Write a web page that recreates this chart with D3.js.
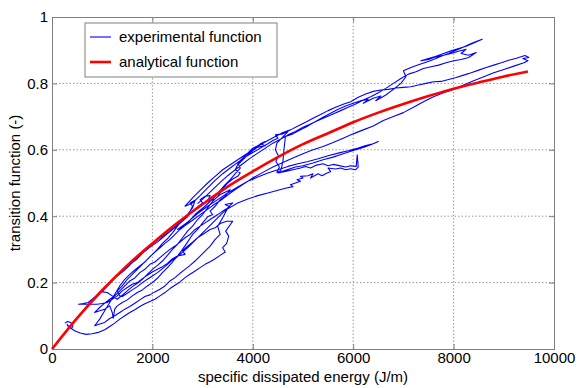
<!DOCTYPE html>
<html>
<head>
<meta charset="utf-8">
<script src="https://cdn.jsdelivr.net/npm/d3@7"></script>
<style>
  body { margin: 0; background: #fff; }
  svg text { font-family: "Liberation Sans", Arial, sans-serif; fill: #000; }
  .grid line { stroke: #999; stroke-dasharray: 1.5,2; }
  .axis path, .axis line { stroke: #808080; }
</style>
</head>
<body>
<svg id="chart" width="579" height="388"></svg>
<script>
// tick values
const xTicks = [0, 2000, 4000, 6000, 8000, 10000];
const yTicks = [0, 0.2, 0.4, 0.6, 0.8, 1];

// analytical function
const anaE = [0, 500, 1000, 1500, 2000, 2500, 3000, 3500, 4000, 4500, 5000, 5500, 6000, 6500, 7000, 7500, 8000, 8500, 9000, 9480];
const anaF = [0, 0.093, 0.177, 0.252, 0.318, 0.38, 0.436, 0.489, 0.535, 0.578, 0.617, 0.65, 0.683, 0.712, 0.738, 0.762, 0.784, 0.803, 0.821, 0.836];

// experimental function, [energy, transition] in drawing order (one load history)
const expPts = [
  [255,0.078],[310,0.083],[370,0.08],[420,0.07],[390,0.062],[330,0.066],[300,0.074],[360,0.064],[450,0.055],[560,0.048],
  [680,0.044],[800,0.046],[920,0.05],[1050,0.058],[1150,0.068],[1250,0.078],[1350,0.09],[1450,0.1],[1550,0.11],[1650,0.118],
  [1750,0.128],[1850,0.136],[1950,0.143],[2050,0.15],[2150,0.16],[2250,0.17],[2350,0.182],[2450,0.192],[2550,0.202],[2650,0.215],
  [2750,0.225],[2850,0.235],[2950,0.245],[3050,0.255],[3150,0.263],[3250,0.272],[3350,0.282],[3450,0.292],[3400,0.305],[3480,0.318],
  [3520,0.34],[3460,0.355],[3540,0.372],[3600,0.385],
  [3480,0.385],[3350,0.378],[3250,0.365],[3150,0.36],[3000,0.345],[2900,0.335],[2800,0.322],[2700,0.31],[2600,0.296],[2650,0.285],
  [2500,0.28],[2400,0.272],[2300,0.258],[2200,0.248],[2100,0.24],[2000,0.232],[1900,0.222],[1800,0.212],[1700,0.2],[1600,0.195],
  [1500,0.185],[1400,0.175],[1300,0.16],[1200,0.15],[1100,0.14],[1000,0.137],[900,0.135],[800,0.135],[700,0.135],[600,0.135],
  [530,0.135],[620,0.137],
  [720,0.14],[820,0.152],[920,0.165],[1020,0.18],[1120,0.195],[1220,0.21],[1320,0.225],[1420,0.238],[1520,0.252],[1620,0.265],
  [1720,0.278],[1820,0.292],[1920,0.305],[2020,0.318],[2120,0.33],[2220,0.342],[2320,0.352],[2420,0.365],[2520,0.378],[2620,0.392],
  [2720,0.405],[2820,0.418],[2920,0.43],[3000,0.44],[2950,0.45],[3050,0.46],[3150,0.462],[3100,0.445],[3250,0.452],[3350,0.465],
  [3450,0.472],[3550,0.48],
  [3450,0.46],[3350,0.45],[3250,0.43],[3150,0.415],[3200,0.405],[3100,0.398],[3000,0.38],[2900,0.36],[2800,0.345],[2700,0.322],
  [2600,0.3],[2500,0.28],[2400,0.262],[2300,0.245],[2200,0.23],[2100,0.213],[2000,0.2],[1900,0.19],[1800,0.178],[1700,0.17],
  [1600,0.16],[1500,0.148],[1400,0.14],[1300,0.13],[1250,0.12],[1220,0.093],[1200,0.11],[1150,0.13],[1050,0.12],[950,0.115],
  [850,0.11],
  [950,0.125],[1050,0.138],[1150,0.15],[1250,0.16],[1350,0.175],[1450,0.19],[1550,0.205],[1650,0.214],[1750,0.23],[1850,0.24],
  [1950,0.255],[2050,0.262],[2150,0.275],[2250,0.288],[2350,0.3],[2450,0.31],[2550,0.322],[2650,0.335],[2750,0.345],[2850,0.36],
  [2950,0.37],[3050,0.38],[3150,0.39],[3250,0.4],[3350,0.41],[3450,0.42],[3550,0.428],[3450,0.435],[3600,0.44],
  [3500,0.425],[3400,0.395],[3300,0.37],[3350,0.345],[3250,0.33],[3150,0.31],[3050,0.295],[2950,0.28],[2850,0.265],[2750,0.252],
  [2650,0.24],[2550,0.228],[2450,0.215],[2350,0.205],[2250,0.19],[2150,0.18],[2050,0.172],[1950,0.163],[1850,0.158],[1750,0.148],
  [1650,0.138],[1550,0.128],[1450,0.12],[1350,0.11],[1250,0.1],[1150,0.092],[1050,0.08],[950,0.075],[850,0.07],
  [950,0.09],[1050,0.115],[1150,0.14],[1250,0.165],[1350,0.19],[1450,0.21],[1550,0.225],[1650,0.238],[1750,0.25],[1850,0.262],
  [1950,0.278],[2050,0.292],[2150,0.305],[2250,0.318],[2350,0.33],[2450,0.345],[2550,0.36],[2650,0.372],[2750,0.388],[2850,0.405],
  [2950,0.418],[3050,0.43],[3150,0.445],[3250,0.46],[3350,0.478],[3450,0.495],[3550,0.51],[3650,0.528],[3750,0.545],[3700,0.56],
  [3800,0.575],[3900,0.59],[4000,0.605],[4100,0.612],[4200,0.622],[4250,0.625],[4150,0.618],[4250,0.612],[4100,0.608],[4000,0.598],
  [3900,0.585],[3800,0.57],[3700,0.555],[3650,0.54],[3750,0.53],[3700,0.52],[3600,0.512],
  [3500,0.5],[3400,0.482],[3300,0.46],[3200,0.445],[3100,0.425],[3000,0.405],[2900,0.39],[2800,0.37],[2700,0.355],[2600,0.335],
  [2500,0.315],[2400,0.3],[2300,0.282],[2200,0.265],[2100,0.252],[2000,0.24],[1900,0.225],[1800,0.21],[1700,0.198],[1600,0.188],
  [1500,0.175],[1400,0.162],[1300,0.15],
  [1200,0.16],[1100,0.17],[1000,0.172],[1100,0.19],[1200,0.205],[1300,0.22],[1400,0.232],[1500,0.245],[1600,0.26],[1700,0.272],
  [1800,0.288],[1900,0.3],[2000,0.312],[2100,0.322],[2200,0.335],[2300,0.348],[2400,0.36],[2500,0.372],[2600,0.385],[2700,0.398],
  [2750,0.415],[2800,0.43],[2750,0.44],[2850,0.448],[2800,0.425],[2700,0.405],[2600,0.39],[2500,0.37],[2400,0.35],[2300,0.332],
  [2200,0.318],[2100,0.3],[2000,0.285],[1900,0.27],[1800,0.255],[1700,0.24],[1600,0.225],[1500,0.21],[1400,0.19],[1300,0.175],
  [1350,0.16],
  [1400,0.158],[1500,0.168],[1600,0.178],[1700,0.188],[1800,0.2],[1900,0.21],[2000,0.22],[2100,0.23],[2200,0.242],[2300,0.255],
  [2400,0.268],[2500,0.278],[2600,0.292],[2700,0.305],[2800,0.32],[2900,0.335],[3000,0.35],[3100,0.365],[3200,0.38],[3300,0.395],
  [3400,0.41],[3500,0.422],[3700,0.44],[3900,0.452],[4100,0.462],[4300,0.47],[4500,0.478],[4650,0.484],[4800,0.489],[4750,0.495],
  [4850,0.5],[4950,0.505],[4880,0.51],[5000,0.515],[4950,0.52],[5100,0.522],[5200,0.528],[5150,0.515],[5300,0.528],[5380,0.522],
  [5450,0.528],[5550,0.535],[5500,0.545],[5650,0.542],[5750,0.545],[5850,0.54],[5950,0.543],[6050,0.54],[6100,0.548],[6080,0.585],
  [6060,0.55],[5950,0.552],[5850,0.548],[5700,0.553],[5600,0.556],[5500,0.552],[5400,0.558],[5250,0.553],[5150,0.545],[5050,0.55],
  [4950,0.545],[4800,0.54],[4650,0.535],[4500,0.53],
  [4650,0.538],[4850,0.548],[5000,0.552],[5200,0.56],[5400,0.57],[5600,0.578],[5800,0.588],[6000,0.598],[6200,0.607],[6350,0.615],
  [6500,0.625],[6400,0.618],[6250,0.613],[6100,0.605],[5900,0.597],[5700,0.59],[5500,0.582],[5300,0.573],[5100,0.565],[4900,0.558],
  [4700,0.55],[4500,0.54],[4300,0.53],[4100,0.518],[3900,0.505],[3700,0.488],[3500,0.47],[3300,0.45],[3100,0.43],[2900,0.408],
  [2700,0.382],[2500,0.36],
  [2650,0.372],[2800,0.388],[3000,0.41],[3200,0.432],[3400,0.452],[3600,0.475],[3800,0.495],[4000,0.515],[4200,0.532],[4400,0.548],
  [4600,0.562],[4800,0.575],[5000,0.588],[5200,0.6],[5400,0.61],[5600,0.622],[5800,0.635],[6000,0.648],[6200,0.66],[6400,0.672],
  [6600,0.688],[6800,0.7],[7000,0.712],[7200,0.728],[7400,0.745],[7600,0.76],[7800,0.772],[8000,0.782],[8200,0.795],[8400,0.808],
  [8600,0.82],[8800,0.832],[9000,0.842],[9200,0.852],[9400,0.862],[9480,0.868],[9380,0.875],[9500,0.878],[9420,0.884],
  [9250,0.876],[9100,0.87],[8950,0.862],[8800,0.855],[8650,0.848],[8500,0.84],[8350,0.832],[8200,0.825],[8050,0.818],[7900,0.812],
  [7750,0.806],[7600,0.805],[7450,0.8],[7300,0.795],[7150,0.79],[7000,0.788],[6850,0.786],[6700,0.782],[6550,0.78],[6400,0.776],
  [6250,0.768],[6100,0.758],[5950,0.745],[5800,0.737],[5650,0.728],[5500,0.718],[5350,0.706],[5200,0.695],[5050,0.683],[4900,0.672],
  [4750,0.66],[4600,0.652],[4450,0.64],[4300,0.628],[4150,0.615],[4000,0.6],[3850,0.585],[3700,0.57],[3550,0.555],[3400,0.54],
  [3250,0.52],[3100,0.5],[2950,0.478],[2800,0.455],[2650,0.43],
  [2800,0.44],[2950,0.462],[3100,0.485],[3250,0.508],[3400,0.528],[3550,0.545],[3700,0.562],[3850,0.578],[4000,0.592],[4150,0.605],
  [4300,0.618],[4400,0.628],[4500,0.635],[4450,0.645],[4600,0.648],[4700,0.655],[4480,0.62],[4450,0.6],[4510,0.582],[4460,0.565],
  [4530,0.548],[4480,0.532],[4560,0.538],[4600,0.565],[4620,0.6],[4650,0.64],[4800,0.648],[4950,0.66],[5100,0.672],
  [5250,0.685],[5400,0.698],[5550,0.71],[5700,0.722],[5850,0.732],[6000,0.74],[6150,0.748],[6300,0.752],[6200,0.74],[6400,0.755],
  [6550,0.762],[6450,0.748],[6650,0.765],[6800,0.782],[6950,0.8],[7050,0.82],[7000,0.838],[7150,0.848],[7300,0.856],[7450,0.864],
  [7600,0.872],[7750,0.882],[7900,0.89],[8050,0.9],[8200,0.91],[8350,0.92],[8450,0.926],[8570,0.933],[8400,0.922],[8250,0.912],
  [8100,0.905],[7950,0.898],[7800,0.89],[7650,0.882],[7500,0.875],[7350,0.868],[7500,0.872],[7650,0.88],[7800,0.885],[7950,0.89],
  [8100,0.897],[8250,0.903],[8150,0.89],[8300,0.885],[8450,0.893],[8300,0.878],[8150,0.872],[8000,0.868],[7850,0.862],[7700,0.855],
  [7550,0.85],[7400,0.845],
  [7250,0.835],[7100,0.828],[6950,0.815],[6800,0.8],[6650,0.785],[6500,0.772],[6350,0.76],[6200,0.75],[6050,0.738],[5900,0.728],
  [5750,0.718],[5600,0.708],[5450,0.698],[5300,0.688],[5150,0.678],[5000,0.668],[4850,0.655],[4700,0.645],[4550,0.632],[4400,0.62],
  [4250,0.605],[4100,0.59],[3950,0.575],[3800,0.558],[3650,0.54],[3500,0.522],[3350,0.502],[3200,0.48],[3050,0.458],[2900,0.438]
];

const legendItems = ['experimental function', 'analytical function'];
const xLabel = 'specific dissipated energy (J/m)';
const yLabel = 'transition function (-)';

const margin = {left: 52, right: 25, top: 17, bottom: 39};
const width = 579, height = 388;
const svg = d3.select('#chart');
const x = d3.scaleLinear().domain([0, 10000]).range([margin.left, width - margin.right]);
const y = d3.scaleLinear().domain([0, 1]).range([height - margin.bottom, margin.top]);

// grid
svg.append('g').attr('class', 'grid').selectAll('line').data(xTicks.slice(1, -1)).enter().append('line')
  .attr('x1', d => x(d)).attr('x2', d => x(d)).attr('y1', y(0)).attr('y2', y(1));
svg.append('g').attr('class', 'grid').selectAll('line').data(yTicks.slice(1, -1)).enter().append('line')
  .attr('x1', x(0)).attr('x2', x(10000)).attr('y1', d => y(d)).attr('y2', d => y(d));

// axes, ticks inside like matlab
const fmtY = d => (d === 0 || d === 1) ? String(d) : d.toFixed(1);
svg.append('g').attr('class', 'axis').attr('transform', 'translate(0,' + y(0) + ')')
  .call(d3.axisBottom(x).tickValues(xTicks).tickSize(-5).tickPadding(3).tickFormat(d3.format('d')));
svg.append('g').attr('class', 'axis').attr('transform', 'translate(0,' + y(1) + ')')
  .call(d3.axisTop(x).tickValues(xTicks).tickSize(-5).tickFormat(''));
svg.append('g').attr('class', 'axis').attr('transform', 'translate(' + x(0) + ',0)')
  .call(d3.axisLeft(y).tickValues(yTicks).tickSize(-5).tickPadding(4).tickFormat(fmtY));
svg.append('g').attr('class', 'axis').attr('transform', 'translate(' + x(10000) + ',0)')
  .call(d3.axisRight(y).tickValues(yTicks).tickSize(-5).tickFormat(''));
svg.selectAll('.axis text').style('font-size', '15px').attr('fill', '#000');

// data lines
const clipId = 'plotclip';
svg.append('clipPath').attr('id', clipId).append('rect')
  .attr('x', x(0)).attr('y', y(1)).attr('width', x(10000) - x(0)).attr('height', y(0) - y(1));
const expLine = d3.line().x(d => x(d[0])).y(d => y(d[1]));
svg.append('path').attr('d', expLine(expPts)).attr('clip-path', 'url(#' + clipId + ')')
  .attr('fill', 'none').attr('stroke', '#0000ff').attr('stroke-width', 1.1).attr('stroke-linejoin', 'round');
const anaLine = d3.line().curve(d3.curveMonotoneX).x((d, i) => x(anaE[i])).y(d => y(d));
svg.append('path').attr('d', anaLine(anaF))
  .attr('fill', 'none').attr('stroke', '#ff0000').attr('stroke-width', 2.6);

// legend
const lg = svg.append('g').attr('transform', 'translate(85,23)');
lg.append('rect').attr('width', 192).attr('height', 54).attr('fill', '#fff').attr('stroke', '#808080');
const lgColors = ['#0000ff', '#ff0000'];
const lgWidths = [1.1, 2.6];
legendItems.forEach((t, i) => {
  const yy = 14 + i * 25;
  lg.append('line').attr('x1', 5).attr('x2', 26).attr('y1', yy).attr('y2', yy)
    .attr('stroke', lgColors[i]).attr('stroke-width', lgWidths[i]);
  lg.append('text').attr('x', 34).attr('y', yy + 5).style('font-size', '15px').text(t);
});

// axis labels
svg.append('text').attr('x', (x(0) + x(10000)) / 2).attr('y', 382).attr('text-anchor', 'middle')
  .style('font-size', '15px').text(xLabel);
svg.append('text').attr('transform', 'translate(20,' + ((y(0) + y(1)) / 2) + ') rotate(-90)')
  .attr('text-anchor', 'middle').style('font-size', '15px').text(yLabel);
</script>
</body>
</html>
